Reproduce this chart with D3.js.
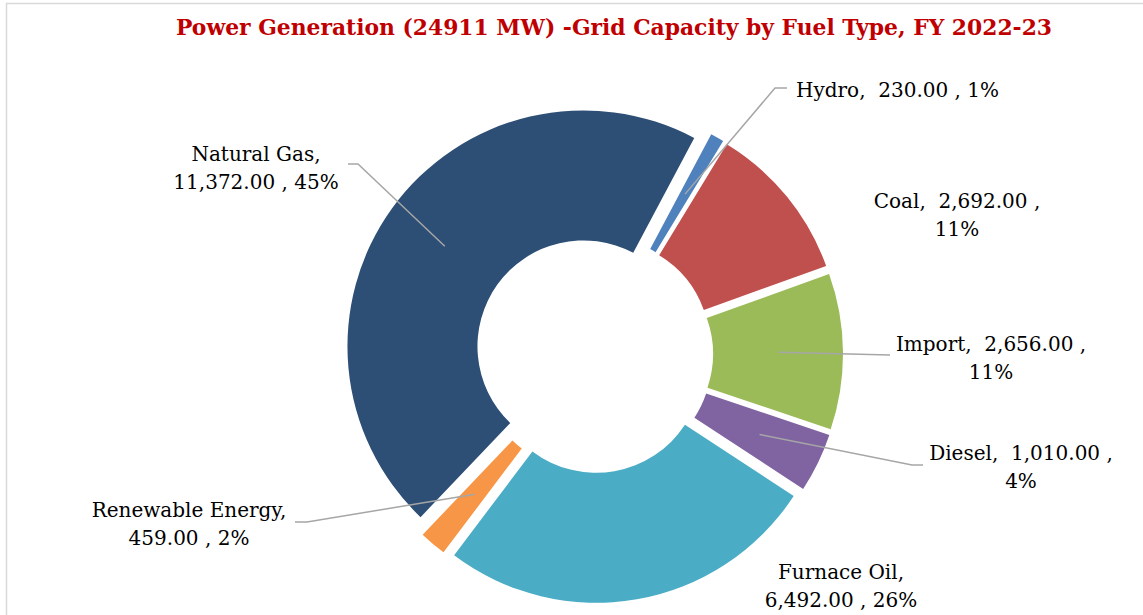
<!DOCTYPE html>
<html>
<head>
<meta charset="utf-8">
<script src="https://cdn.jsdelivr.net/npm/d3@7"></script>
<style>
  body { margin: 0; background: #fff; }
  svg { display: block; }
</style>
</head>
<body>
<div id="chart"></div>
<script>

// fuel types, clockwise from the top
const fuels = ["Hydro", "Coal", "Import", "Diesel", "Furnace Oil", "Renewable Energy", "Natural Gas"];
const capacityMW = [230, 2692, 2656, 1010, 6492, 459, 11372];
const pctLabels = [1, 11, 11, 4, 26, 2, 45];
const fuelColors = ["#4F81BD", "#C0504D", "#9BBB59", "#8064A2", "#4BACC6", "#F79646", "#2D4E75"];

const title = "Power Generation (24911 MW) -Grid Capacity by Fuel Type, FY 2022-23";

// where each label sits (center x, first baseline) and how it is split
const labelLayout = {
	"Hydro":            { x: 796,  y: 97,  anchor: "start",  split: "one",   knee: [[775, 88], [787, 88]] },
	"Coal":             { x: 957,  y: 208, anchor: "middle", split: "value", knee: null },
	"Import":           { x: 991,  y: 351, anchor: "middle", split: "value", knee: [[890, 355]] },
	"Diesel":           { x: 1021, y: 460, anchor: "middle", split: "value", knee: [[912, 465], [923, 465]] },
	"Furnace Oil":      { x: 841,  y: 579, anchor: "middle", split: "name",  knee: null },
	"Renewable Energy": { x: 189,  y: 517, anchor: "middle", split: "name",  knee: [[307, 522], [295, 522]] },
	"Natural Gas":      { x: 256,  y: 161, anchor: "middle", split: "name",  knee: [[358, 164], [348, 164]] }
};

const width = 1143, height = 615;
const cx = 594, cy = 354;
const outerR = 236, innerR = 106, explode = 13;
const startDeg = 28;

const svg = d3.select("#chart").append("svg")
	.attr("width", width)
	.attr("height", height);

// chart border (runs off the right / bottom edge)
svg.append("rect")
	.attr("x", 6.5).attr("y", 3.5)
	.attr("width", width + 20).attr("height", height + 20)
	.attr("fill", "none")
	.attr("stroke", "#D9D9D9")
	.attr("stroke-width", 1.5);

svg.append("text")
	.attr("x", 614)
	.attr("y", 35)
	.attr("text-anchor", "middle")
	.attr("font-family", "DejaVu Serif")
	.attr("font-weight", "bold")
	.attr("font-size", 23)
	.attr("fill", "#C00000")
	.attr("textLength", 876)
	.attr("lengthAdjust", "spacingAndGlyphs")
	.text(title);

let data = fuels.map((f, i) => ({ name: f, value: capacityMW[i], pct: pctLabels[i], color: fuelColors[i] }));

let start = startDeg * Math.PI / 180;
let pie = d3.pie()
	.sort(null)
	.value(d => d.value)
	.startAngle(start)
	.endAngle(start + 2 * Math.PI);

let arcs = pie(data);

let arc = d3.arc()
	.innerRadius(innerR)
	.outerRadius(outerR);

// offset of each exploded slice
function shift(d) {
	let a = (d.startAngle + d.endAngle) / 2;
	return [Math.sin(a) * explode, -Math.cos(a) * explode];
}

let g = svg.append("g")
	.attr("transform", "translate(" + cx + "," + cy + ")");

g.selectAll(".slice")
	.data(arcs)
	.enter()
	.append("path")
	.attr("class", "slice")
	.attr("d", arc)
	.attr("fill", d => d.data.color)
	.attr("transform", d => "translate(" + shift(d) + ")");

// leader lines from slice centroid to the label
let fmt = d3.format(",.2f");

arcs.forEach(d => {
	let lay = labelLayout[d.data.name];
	if (!lay.knee) return;
	let c = arc.centroid(d);
	let s = shift(d);
	let pts = [[cx + c[0] + s[0], cy + c[1] + s[1]]].concat(lay.knee);
	svg.append("path")
		.attr("d", d3.line()(pts))
		.attr("fill", "none")
		.attr("stroke", "#A6A6A6")
		.attr("stroke-width", 1.5);
});

let labels = svg.append("g")
	.attr("font-family", "DejaVu Serif")
	.attr("font-size", 20)
	.attr("fill", "#000");

arcs.forEach(d => {
	let lay = labelLayout[d.data.name];
	let v = fmt(d.data.value);
	let lines;
	if (lay.split === "one") lines = [d.data.name + ",  " + v + " , " + d.data.pct + "%"];
	else if (lay.split === "value") lines = [d.data.name + ",  " + v + " ,", d.data.pct + "%"];
	else lines = [d.data.name + ",", v + " , " + d.data.pct + "%"];

	let t = labels.append("text")
		.attr("text-anchor", lay.anchor)
		.attr("xml:space", "preserve")
		.style("white-space", "pre");
	lines.forEach((l, i) => {
		t.append("tspan")
			.attr("x", lay.x)
			.attr("y", lay.y + i * 28)
			.text(l);
	});
});

</script>
</body>
</html>
